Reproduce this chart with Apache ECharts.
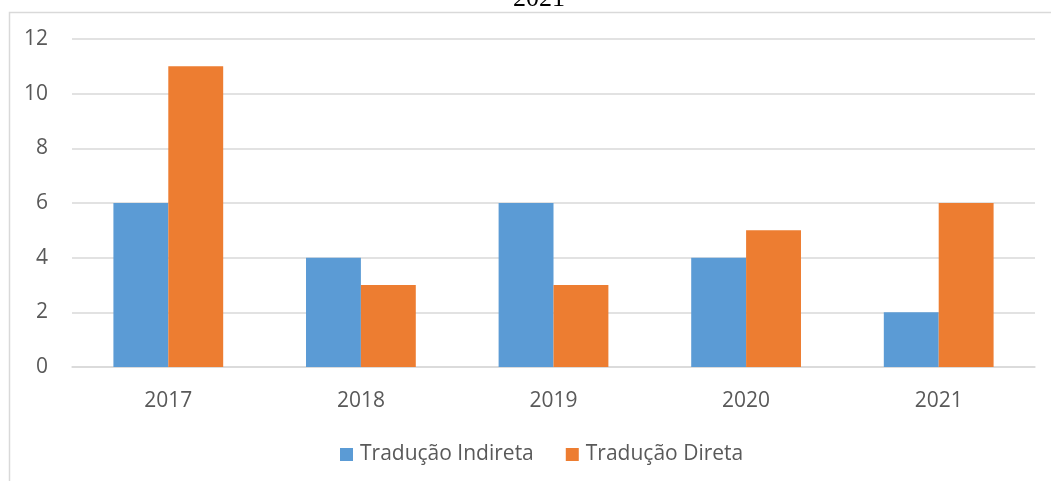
<!DOCTYPE html>
<html>
<head>
<meta charset="utf-8">
<script src="https://cdn.jsdelivr.net/npm/echarts@6/dist/echarts.min.js"></script>
<style>
  html, body { margin: 0; padding: 0; background: #fff; }
  #main { width: 1051px; height: 481px; }
</style>
</head>
<body>
<div id="main"></div>
<script>
// dados do gráfico
const anos = ["2017", "2018", "2019", "2020", "2021"];
const indireta = [6, 4, 6, 4, 2];
const direta = [11, 3, 3, 5, 6];
const nomes = ["Tradução Indireta", "Tradução Direta"];

const chart = echarts.init(document.getElementById("main"));
const option = {
  animation: false,
  title: {
    text: "2021",
    left: 508,
    top: -19,
    textStyle: {
      fontFamily: "Liberation Serif",
      fontWeight: "normal",
      fontSize: 26,
      color: "#000"
    }
  },
  graphic: [
    {
      type: "rect",
      left: 7,
      top: 10,
      shape: { width: 1100, height: 520 },
      style: { fill: "none", stroke: "#d9d9d9", lineWidth: 1.5 },
      silent: true
    }
  ],
  legend: {
    data: nomes,
    top: 439,
    left: 335,
    itemWidth: 13,
    itemHeight: 13,
    itemGap: 32,
    icon: "rect",
    textStyle: { fontFamily: "Open Sans", fontSize: 21, color: "#595959", padding: [0, 0, 0, 2] }
  },
  grid: { left: 72, right: 16, top: 39, bottom: 114, containLabel: false },
  xAxis: {
    type: "category",
    data: anos,
    axisLine: { lineStyle: { color: "#d9d9d9", width: 1.5 } },
    axisTick: { show: false },
    axisLabel: { fontFamily: "Open Sans", fontSize: 21, color: "#595959", margin: 24 }
  },
  yAxis: {
    type: "value",
    min: 0,
    max: 12,
    interval: 2,
    axisLine: { show: false },
    axisTick: { show: false },
    splitLine: { lineStyle: { color: "#d9d9d9", width: 1.5 } },
    axisLabel: { fontFamily: "Open Sans", fontSize: 21, color: "#595959", margin: 24 }
  },
  series: [
    {
      name: nomes[0],
      type: "bar",
      data: indireta,
      barGap: "0%",
      barCategoryGap: "43%",
      itemStyle: { color: "#5B9BD5" }
    },
    {
      name: nomes[1],
      type: "bar",
      data: direta,
      barGap: "0%",
      barCategoryGap: "43%",
      itemStyle: { color: "#ED7D31" }
    }
  ]
};
chart.setOption(option);
</script>
</body>
</html>
